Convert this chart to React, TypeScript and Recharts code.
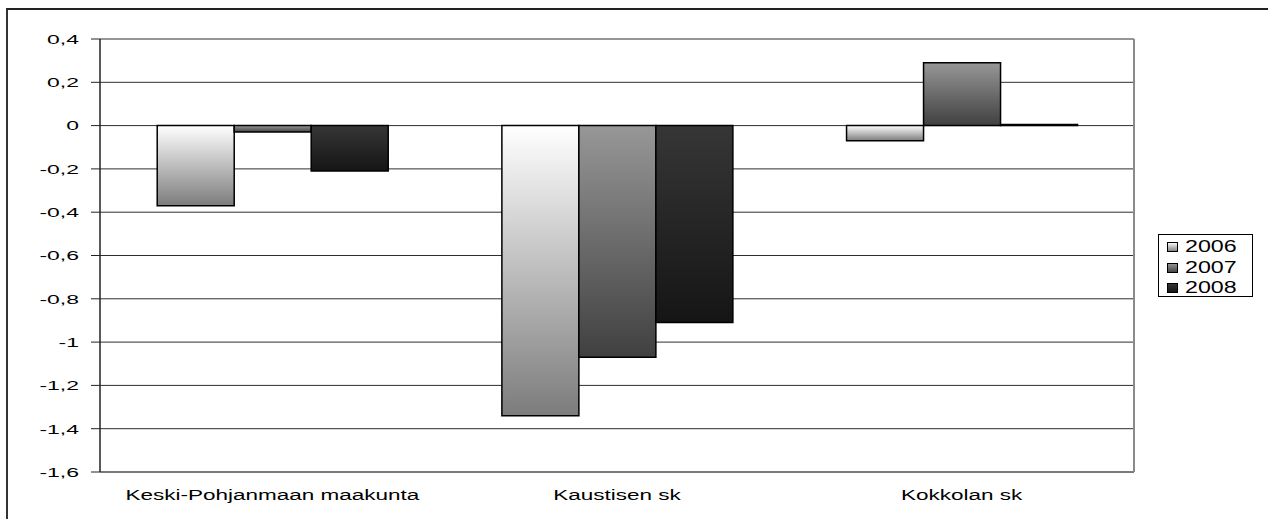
import React from 'react';
import { BarChart, Bar, XAxis, YAxis, CartesianGrid } from 'recharts';

const categories = ['Keski-Pohjanmaan maakunta', 'Kaustisen sk', 'Kokkolan sk'];
const years = ['2006', '2007', '2008'];
const values2006 = [-0.37, -1.34, -0.07];
const values2007 = [-0.03, -1.07, 0.29];
const values2008 = [-0.21, -0.91, 0.005];
const yTicks = [0.4, 0.2, 0, -0.2, -0.4, -0.6, -0.8, -1, -1.2, -1.4, -1.6];
const yTickLabels = ['0,4', '0,2', '0', '-0,2', '-0,4', '-0,6', '-0,8', '-1', '-1,2', '-1,4', '-1,6'];

const data = categories.map((c, i) => ({
  name: c,
  y2006: values2006[i],
  y2007: values2007[i],
  y2008: values2008[i],
}));

const gradIds = ['g2006', 'g2007', 'g2008'];
const gradStops: [string, string][] = [
  ['#ffffff', '#7c7c7c'],
  ['#979797', '#404040'],
  ['#363636', '#151515'],
];

const FONT = '"Liberation Sans", Arial, sans-serif';

const YTick = (props: any) => {
  const { x, y, payload } = props;
  const idx = yTicks.findIndex((t) => Math.abs(t - payload.value) < 1e-9);
  const label = idx >= 0 ? yTickLabels[idx] : String(payload.value);
  return (
    <g transform={`translate(${x},${y})`}>
      <text transform="scale(1.7,1)" x={0} y={0} dy="0.36em" textAnchor="end" fontSize={13.5} fontFamily={FONT} fill="#000">
        {label}
      </text>
    </g>
  );
};

const XTick = (props: any) => {
  const { x, y, payload } = props;
  return (
    <g transform={`translate(${x},${y})`}>
      <text transform="scale(1.5,1)" x={0} y={28} textAnchor="middle" fontSize={15} fontFamily={FONT} fill="#000">
        {payload.value}
      </text>
    </g>
  );
};

const LegendBox = () => (
  <div
    style={{
      position: 'absolute',
      left: 1158,
      top: 234,
      width: 95,
      height: 63,
      border: '1px solid #000',
      background: '#fff',
      boxSizing: 'border-box',
      paddingTop: 2,
    }}
  >
    {years.map((yr, i) => (
      <div key={yr} style={{ height: 20.5, display: 'flex', alignItems: 'center' }}>
        <svg width={12} height={10} style={{ marginLeft: 8, marginRight: 6 }}>
          <rect x={0.5} y={0.5} width={10} height={9} fill={`url(#${gradIds[i]})`} stroke="#000" strokeWidth={1} />
        </svg>
        <span
          style={{
            fontFamily: FONT,
            fontSize: 16,
            display: 'inline-block',
            transform: 'scale(1.45,1)',
            transformOrigin: 'left center',
            lineHeight: '16px',
          }}
        >
          {yr}
        </span>
      </div>
    ))}
  </div>
);

export default function App() {
  return (
    <div style={{ position: 'absolute', left: 0, top: 0, width: 1268, height: 519, background: '#fff', overflow: 'hidden' }}>
      <div
        style={{
          position: 'absolute',
          left: 6,
          top: 8,
          width: 1300,
          height: 600,
          borderTop: '2px solid #222',
          borderLeft: '2px solid #333',
        }}
      />
      <div style={{ position: 'absolute', left: 0, top: 0 }}>
        <BarChart
          width={1268}
          height={519}
          data={data}
          margin={{ top: 39, right: 133, left: 10, bottom: 17 }}
          barGap={0}
          barCategoryGap="16.6%"
        >
          <defs>
            {gradIds.map((id, i) => (
              <linearGradient key={id} id={id} x1="0" y1="0" x2="0" y2="1">
                <stop offset="0%" stopColor={gradStops[i][0]} />
                <stop offset="100%" stopColor={gradStops[i][1]} />
              </linearGradient>
            ))}
          </defs>
          <CartesianGrid vertical={false} stroke="#2e2e2e" strokeWidth={1} />
          <XAxis
            dataKey="name"
            height={30}
            tickLine={false}
            tickSize={0}
            tickMargin={0}
            axisLine={{ stroke: '#7a7a7a', strokeWidth: 2 }}
            tick={<XTick />}
            interval={0}
          />
          <YAxis
            width={90}
            domain={[-1.6, 0.4]}
            ticks={yTicks}
            interval={0}
            tickSize={9}
            tickMargin={12}
            tickLine={{ stroke: '#222' }}
            axisLine={{ stroke: '#222', strokeWidth: 1.5 }}
            tick={<YTick />}
            allowDataOverflow
          />
          <YAxis
            yAxisId="right"
            orientation="right"
            width={1}
            domain={[-1.6, 0.4]}
            tick={false}
            tickLine={false}
            axisLine={{ stroke: '#8a8a8a', strokeWidth: 2 }}
          />
          <Bar dataKey="y2006" name="2006" fill="url(#g2006)" stroke="#000" strokeWidth={1.5} isAnimationActive={false} />
          <Bar dataKey="y2007" name="2007" fill="url(#g2007)" stroke="#000" strokeWidth={1.5} isAnimationActive={false} />
          <Bar dataKey="y2008" name="2008" fill="url(#g2008)" stroke="#000" strokeWidth={1.5} isAnimationActive={false} />
        </BarChart>
      </div>
      <LegendBox />
    </div>
  );
}
